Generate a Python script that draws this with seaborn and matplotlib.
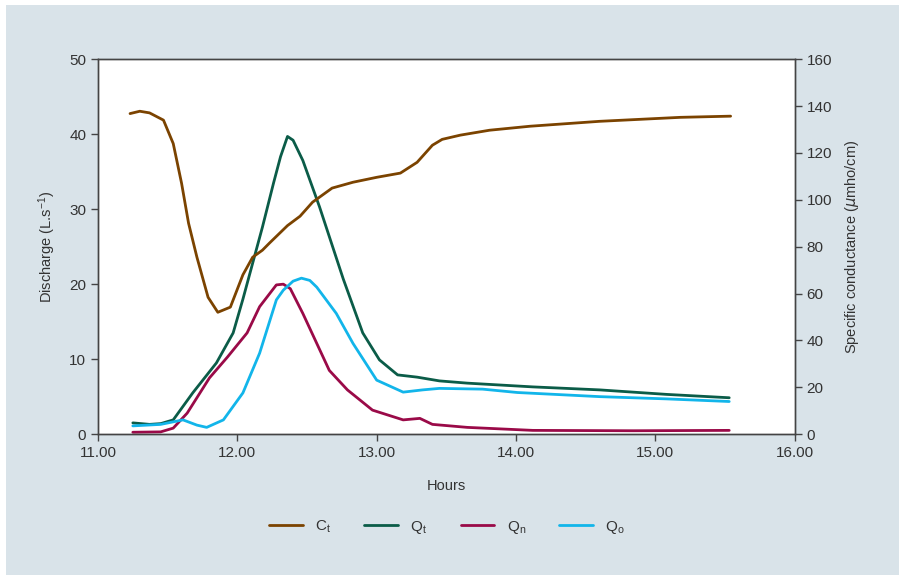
import matplotlib
matplotlib.use("Agg")
import matplotlib.pyplot as plt
from matplotlib.patches import Rectangle
import seaborn as sns
import pandas as pd

# Specific conductance Ct (µmho/cm) vs hours
ct_hours = [11.23, 11.30, 11.37, 11.47, 11.54, 11.60, 11.65, 11.71, 11.79, 11.86, 11.95,
            12.04, 12.11, 12.18, 12.23, 12.36, 12.45, 12.54, 12.68, 12.83, 13.00, 13.17,
            13.29, 13.40, 13.47, 13.60, 13.81, 14.10, 14.60, 15.18, 15.54]
ct_values = [136.8, 137.8, 137.1, 134.0, 124.0, 107.0, 90.0, 75.5, 58.4, 52.0, 54.2,
             68.0, 75.5, 78.5, 81.5, 89.0, 93.0, 99.0, 105.0, 107.5, 109.6, 111.4,
             116.0, 123.3, 125.8, 127.6, 129.7, 131.4, 133.5, 135.2, 135.7]

# Total discharge Qt (L/s)
qt_hours = [11.25, 11.37, 11.45, 11.54, 11.68, 11.85, 11.97, 12.04, 12.18, 12.26, 12.31,
            12.36, 12.40, 12.47, 12.59, 12.76, 12.90, 13.02, 13.15, 13.29, 13.45, 13.65,
            14.12, 14.60, 15.08, 15.53]
qt_values = [1.5, 1.3, 1.4, 1.9, 5.5, 9.5, 13.5, 18.0, 27.6, 33.5, 37.0,
             39.7, 39.2, 36.5, 30.3, 20.7, 13.5, 9.9, 7.9, 7.6, 7.1, 6.8,
             6.3, 5.9, 5.3, 4.85]

# Discharge component Qn (L/s)
qn_hours = [11.25, 11.45, 11.54, 11.64, 11.80, 11.93, 12.07, 12.16, 12.28, 12.33, 12.38,
            12.47, 12.57, 12.66, 12.79, 12.97, 13.19, 13.31, 13.40, 13.65, 14.12, 14.84, 15.53]
qn_values = [0.25, 0.3, 0.8, 2.8, 7.5, 10.3, 13.5, 17.0, 19.9, 20.0, 19.4,
             16.1, 12.1, 8.5, 5.9, 3.2, 1.9, 2.1, 1.3, 0.9, 0.5, 0.45, 0.5]

# Discharge component Qo (L/s)
qo_hours = [11.25, 11.45, 11.61, 11.71, 11.78, 11.90, 12.04, 12.16, 12.28, 12.33, 12.40,
            12.46, 12.52, 12.57, 12.71, 12.83, 13.00, 13.19, 13.33, 13.45, 13.76, 14.01,
            14.60, 15.08, 15.53]
qo_values = [1.1, 1.3, 1.9, 1.2, 0.9, 1.9, 5.5, 10.8, 17.9, 19.2, 20.4,
             20.8, 20.5, 19.6, 16.1, 12.1, 7.2, 5.6, 5.9, 6.1, 6.0, 5.55,
             5.0, 4.7, 4.35]

x_ticks = [11.0, 12.0, 13.0, 14.0, 15.0, 16.0]
left_ticks = [0, 10, 20, 30, 40, 50]
right_ticks = [0, 20, 40, 60, 80, 100, 120, 140, 160]

colors = {"Ct": "#7b4300", "Qt": "#0b5c48", "Qn": "#9a0a48", "Qo": "#12b5ea"}
bg = "#d9e3e9"
text_c = "#333333"

sns.set_theme(style="ticks")
plt.rcParams["font.family"] = ["Liberation Sans", "DejaVu Sans"]
plt.rcParams["mathtext.default"] = "regular"

fig = plt.figure(figsize=(8.99, 5.75), dpi=100, facecolor="white")
# tinted panel behind the chart, leaving a thin white margin top-left
fig.patches.append(Rectangle((6 / 899, 0), 1, 1 - 5 / 575, transform=fig.transFigure,
                             facecolor=bg, edgecolor="none", zorder=-10))

ax = fig.add_axes([0.109, 0.245, 0.775, 0.652])
ax.set_facecolor("white")
ax2 = ax.twinx()

lw = 2.0
df_qt = pd.DataFrame({"h": qt_hours, "v": qt_values})
df_qn = pd.DataFrame({"h": qn_hours, "v": qn_values})
df_qo = pd.DataFrame({"h": qo_hours, "v": qo_values})
df_ct = pd.DataFrame({"h": ct_hours, "v": ct_values})

sns.lineplot(data=df_qt, x="h", y="v", ax=ax, color=colors["Qt"], lw=lw, legend=False)
sns.lineplot(data=df_qn, x="h", y="v", ax=ax, color=colors["Qn"], lw=lw, legend=False)
sns.lineplot(data=df_qo, x="h", y="v", ax=ax, color=colors["Qo"], lw=lw, legend=False)
sns.lineplot(data=df_ct, x="h", y="v", ax=ax2, color=colors["Ct"], lw=lw, legend=False)
for a in (ax, ax2):
    for ln in a.lines:
        ln.set_solid_joinstyle("round")
        ln.set_solid_capstyle("round")

ax.set_xlim(11, 16)
ax.set_ylim(0, 50)
ax2.set_ylim(0, 160)
ax.set_xticks(x_ticks)
ax.set_xticklabels([f"{t:.2f}" for t in x_ticks])
ax.set_yticks(left_ticks)
ax2.set_yticks(right_ticks)

for a in (ax, ax2):
    for s in a.spines.values():
        s.set_color("#444444")
        s.set_linewidth(1.0)
    a.tick_params(colors="#444444", labelcolor=text_c, labelsize=11, length=5, width=1.0, direction="out")

ax.set_xlabel("Hours", fontsize=10.5, color=text_c, labelpad=14)
ax.set_ylabel("Discharge (L.s$^{-1}$)", fontsize=10.5, color=text_c, labelpad=8)
ax2.set_ylabel("Specific conductance ($\\mathit{\\mu}$mho/cm)", fontsize=10.5, color=text_c, labelpad=8)

handles = [ax2.lines[0], ax.lines[0], ax.lines[1], ax.lines[2]]
labels = ["C$_t$", "Q$_t$", "Q$_n$", "Q$_o$"]
fig.legend(handles, labels, loc="center", bbox_to_anchor=(0.497, 0.083), ncol=4,
           frameon=False, fontsize=11, handlelength=2.2, columnspacing=2.2,
           labelcolor=text_c)

fig.savefig("out.png", dpi=100, facecolor="white")
